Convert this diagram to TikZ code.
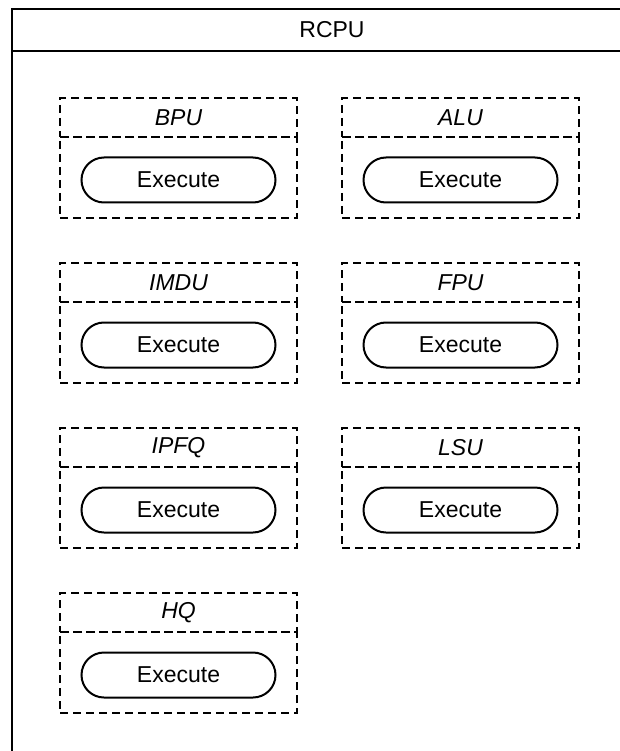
\documentclass[tikz,border=0pt]{standalone}
\usepackage{fontspec}
\setmainfont{Liberation Sans}
\usetikzlibrary{shapes.misc}
\begin{document}
\begin{tikzpicture}[x=1pt,y=-1pt,
  outerbox/.style={draw, line width=2pt, inner sep=0pt, anchor=north west},
  dashbox/.style={draw, line width=2pt, dash pattern=on 8pt off 5pt, inner sep=0pt, minimum width=237pt},
  headbox/.style={dashbox, minimum height=39pt, font=\fontsize{23}{27}\selectfont\itshape},
  bodybox/.style={dashbox, minimum height=81pt},
  pill/.style={draw, line width=2pt, rounded rectangle, minimum width=194pt, minimum height=45pt, inner sep=0pt, font=\fontsize{23}{27}\selectfont},
  titlefont/.style={font=\fontsize{23}{27}\selectfont}
]
\useasboundingbox (0,0) rectangle (620,751);
\clip (0,0) rectangle (620,751);
\node[outerbox, titlefont, minimum width=640pt, minimum height=42pt, text width=598pt, align=center] (rcpu) at (11,8) {RCPU};
\node[outerbox, minimum width=640pt, minimum height=730pt] (rcpubody) at (11,50) {};
\foreach \n/\lbl/\cx/\ty in {bpu/BPU/178.5/98, alu/ALU/460.5/98, imdu/IMDU/178.5/263, fpu/FPU/460.5/263, ipfq/IPFQ/178.5/428, lsu/LSU/460.5/428, hq/HQ/178.5/593}{
  \node[headbox] (\n-head) at (\cx,\ty+19.5) {\lbl};
  \node[bodybox] (\n-body) at (\cx,\ty+79.5) {};
  \node[pill] (\n-exec) at (\cx,\ty+82) {Execute};
}
\end{tikzpicture}
\end{document}
